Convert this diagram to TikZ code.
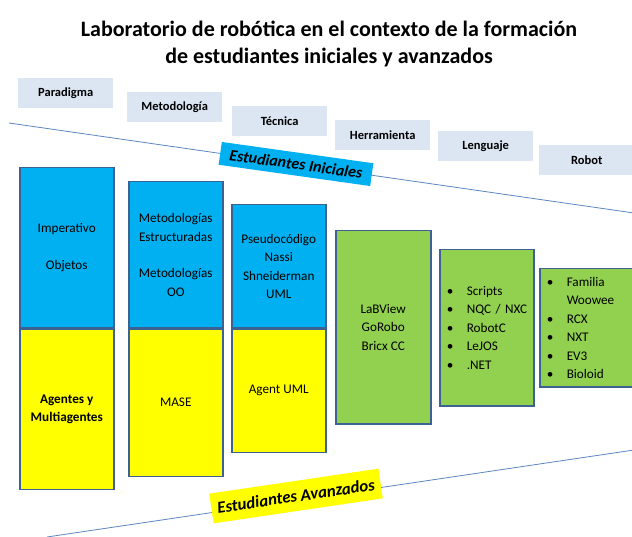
\documentclass[tikz,border=0pt]{standalone}
\usepackage{fontspec}
\setmainfont{Carlito}
\usetikzlibrary{positioning}

\definecolor{encab}{HTML}{DCE6F2}
\definecolor{celeste}{HTML}{00B0F0}
\definecolor{amarillo}{HTML}{FFFF00}
\definecolor{verde}{HTML}{92D050}
\definecolor{borde}{HTML}{3C6294}
\definecolor{linea}{HTML}{5B86C0}

\tikzset{
  encabezado/.style={fill=encab, anchor=north west, inner sep=0pt,
    minimum width=95pt, minimum height=30pt,
    font=\fontsize{12.5}{14}\selectfont\bfseries},
  columna/.style={draw=borde, line width=1.5pt, inner sep=0pt, align=center,
    font=\fontsize{13.2}{18.5}\selectfont},
  lista/.style={draw=borde, line width=1.5pt, fill=verde, anchor=north west,
    inner xsep=7pt, inner ysep=0pt, align=left,
    font=\fontsize{13.2}{18.5}\selectfont},
  etiqueta/.style={inner sep=0pt, font=\fontsize{16}{18}\selectfont\bfseries\itshape}
}
\newcommand{\vin}[1]{\mbox{\makebox[20pt][l]{•}#1}}

\begin{document}
\begin{tikzpicture}[x=1pt,y=-1pt]
  \useasboundingbox (0,0) rectangle (632,537);

  % Titulo
  \node[align=center, font=\fontsize{22}{27}\selectfont\bfseries] (titulo) at (329,44)
    {Laboratorio de robótica en el contexto de la formación\\
     de estudiantes iniciales y avanzados};

  % Lineas
  \coordinate (ini1) at (9,123);
  \coordinate (ini2) at (634,213);
  \coordinate (ava1) at (47,537);
  \coordinate (ava2) at (634,450);
  \draw[linea, line width=0.8pt] (ini1) -- (ini2);
  \draw[linea, line width=0.8pt] (ava1) -- (ava2);

  % Encabezados
  \node[encabezado] (paradigma) at (18,78) {Paradigma};
  \node[encabezado] (metodologia) at (127,92) {Metodología};
  \node[encabezado] (tecnica) at (232,106) {Técnica};
  \node[encabezado] (herramienta) at (335,120) {Herramienta};
  \node[encabezado] (lenguaje) at (438,131) {Lenguaje};
  \node[encabezado] (robot) at (539,145) {Robot};

  % Columnas
  \node[columna, fill=celeste, anchor=north west, minimum width=94pt, minimum height=160pt]
    (para1) at (19,167) {Imperativo\\[19pt]Objetos};
  \node[columna, fill=amarillo, minimum width=94pt, minimum height=160pt, below=0pt of para1]
    (para2) {\bfseries Agentes y\\\bfseries Multiagentes};

  \node[columna, fill=celeste, anchor=north west, minimum width=94pt, minimum height=146pt]
    (meto1) at (128,181) {Metodologías\\Estructuradas\\[18pt]Metodologías\\OO};
  \node[columna, fill=amarillo, minimum width=94pt, minimum height=147pt, below=0pt of meto1]
    (meto2) {MASE};

  \node[columna, fill=celeste, anchor=north west, minimum width=94pt, minimum height=123pt]
    (tecn1) at (231,204) {Pseudocódigo\\Nassi\\Shneiderman\\UML};
  \node[columna, fill=amarillo, minimum width=94pt, minimum height=123pt, below=0pt of tecn1]
    (tecn2) {Agent UML};

  \node[columna, fill=verde, anchor=north west, minimum width=95pt, minimum height=193pt]
    (herr) at (335,230) {LaBView\\GoRobo\\Bricx CC};

  \node[lista, text width=80pt, minimum height=156pt] (leng) at (439,249)
    {\vin{Scripts}\\\vin{NQC / NXC}\\\vin{RobotC}\\\vin{LeJOS}\\\vin{.NET}};

  \node[lista, text width=86pt, minimum height=118pt] (robo) at (539,268)
    {\vin{Familia}\\\hspace*{20pt}Woowee\\\vin{RCX}\\\vin{NXT}\\\vin{EV3}\\\vin{Bioloid}};

  % Etiquetas
  \node[etiqueta, fill=celeste, rotate=-8, minimum width=153pt, minimum height=23pt]
    (iniciales) at (296,164) {Estudiantes Iniciales};
  \node[etiqueta, fill=amarillo, rotate=8.4, minimum width=171pt, minimum height=30pt,
    font=\fontsize{16.8}{18}\selectfont\bfseries\itshape]
    (avanzados) at (296,496) {Estudiantes Avanzados};
\end{tikzpicture}
\end{document}
